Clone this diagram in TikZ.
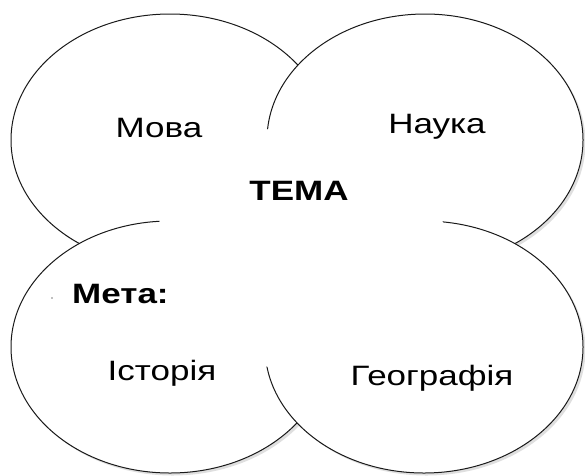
\documentclass[tikz,border=0pt]{standalone}
\usepackage{fontspec}
\setmainfont{Liberation Sans}[FakeStretch=1.25]
\usetikzlibrary{shapes, shadows}

\tikzset{
    venn/.style={ellipse, draw=black!90, line width=1pt, fill=white,
        inner sep=0pt, outer sep=0pt,
        drop shadow={shadow xshift=2.5pt, shadow yshift=-2.5pt, fill=black!25}},
    word/.style={anchor=base, font=\fontsize{28}{32}\selectfont}
}

\begin{document}
\begin{tikzpicture}[x=1pt, y=-1pt]
    \useasboundingbox (0, 0) rectangle (585, 475);

    \node [venn, minimum width=318, minimum height=252] (mova) at (170, 140) {};
    \node [venn, minimum width=316, minimum height=252] (nauka) at (425, 140) {};
    \node [venn, minimum width=318, minimum height=252] (istoria) at (170, 347) {};
    \node [venn, minimum width=318, minimum height=252] (geo) at (424, 347) {};

    \fill [white] (301, 248) ellipse [x radius=145, y radius=122];
    \fill [black!50] (52, 298) circle (0.8);

    \node [word] (tmova) at (159, 137) {Мова};
    \node [word] (tnauka) at (437, 133) {Наука};
    \node [word, font=\fontsize{28}{32}\selectfont\bfseries] (tema) at (299, 200) {ТЕМА};
    \node [word, anchor=base west, inner sep=0pt, font=\fontsize{28}{32}\selectfont\bfseries] (meta) at (72, 303) {Мета:};
    \node [word] (tistoria) at (162, 380) {Історія};
    \node [word] (tgeo) at (432, 385) {Географія};
\end{tikzpicture}
\end{document}
